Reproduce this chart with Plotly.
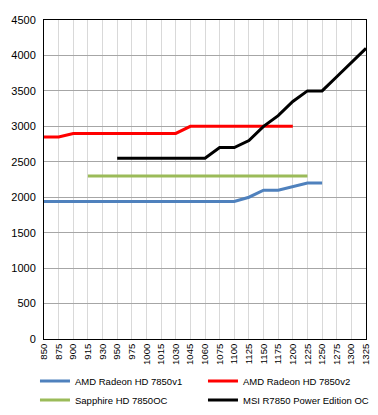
import plotly.graph_objects as go

categories = ["850", "875", "900", "915", "930", "950", "975", "1000", "1015", "1030",
              "1045", "1060", "1075", "1100", "1125", "1150", "1175", "1200", "1225",
              "1250", "1275", "1300", "1325"]

amd_v1 = [1940, 1940, 1940, 1940, 1940, 1940, 1940, 1940, 1940, 1940, 1940, 1940, 1940,
          1940, 2000, 2100, 2100, 2150, 2200, 2200, None, None, None]
amd_v2 = [2850, 2850, 2900, 2900, 2900, 2900, 2900, 2900, 2900, 2900, 3000, 3000, 3000,
          3000, 3000, 3000, 3000, 3000, None, None, None, None, None]
sapphire = [None, None, None, 2300, 2300, 2300, 2300, 2300, 2300, 2300, 2300, 2300, 2300,
            2300, 2300, 2300, 2300, 2300, 2300, None, None, None, None]
msi = [None, None, None, None, None, 2550, 2550, 2550, 2550, 2550, 2550, 2550, 2700,
       2700, 2800, 3000, 3150, 3350, 3500, 3500, 3700, 3900, 4100]

series = [
    ("AMD Radeon HD 7850v1", amd_v1, "#4F81BD"),
    ("AMD Radeon HD 7850v2", amd_v2, "#FF0000"),
    ("Sapphire HD 7850OC", sapphire, "#9BBB59"),
    ("MSI R7850 Power Edition OC", msi, "#000000"),
]

fig = go.Figure()
for name, vals, color in series:
    fig.add_trace(go.Scatter(x=categories, y=vals, name=name, mode="lines",
                             line=dict(color=color, width=3), connectgaps=False))

# page body has an 8px margin, so the figure is sized 8px smaller
fig.update_layout(
    width=370, height=407,
    margin=dict(l=36, r=12, t=12, b=76, autoexpand=False),
    paper_bgcolor="white", plot_bgcolor="white",
    font=dict(family="Liberation Sans, Arial, sans-serif", size=11, color="#000"),
    showlegend=True,
    legend=dict(orientation="h", x=-0.028, y=-0.086, xanchor="left", yanchor="top",
                entrywidth=123, font=dict(size=9.5), tracegroupgap=0,
                itemwidth=30, bgcolor="rgba(0,0,0,0)"),
)
fig.update_xaxes(type="category", range=[0, 22], showgrid=True, gridcolor="#D9D9D9",
                 gridwidth=1, tickangle=-90, tickfont=dict(size=9.5), ticks="",
                 showline=True, linecolor="black", linewidth=1, mirror=True,
                 automargin=False)
fig.update_yaxes(range=[0, 4500], dtick=500, showgrid=True, gridcolor="#A6A6A6",
                 gridwidth=1, ticks="", tickfont=dict(size=11), ticklabelstandoff=5,
                 showline=True, linecolor="black", linewidth=1, mirror=True,
                 zeroline=False, automargin=False)

fig.write_html("out.html")
